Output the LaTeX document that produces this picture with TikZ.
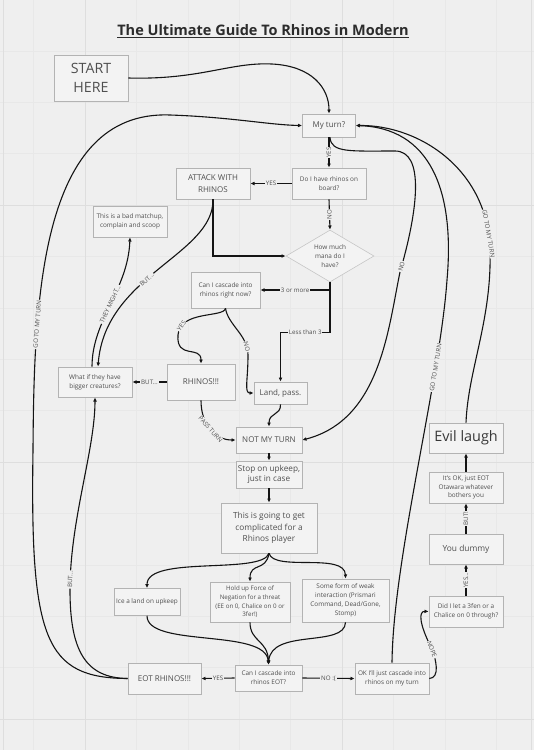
\documentclass[tikz,border=0pt]{standalone}
\usepackage{fontspec}
\setmainfont{Open Sans}
\usepackage{xcolor}
\usepackage{tikz}
\usetikzlibrary{arrows.meta, positioning, shapes.geometric}
\definecolor{rbg}{HTML}{EFEFEF}
\definecolor{rgrid}{HTML}{DEDEDE}
\definecolor{rgridpale}{HTML}{E8E8E8}
\definecolor{rborder}{HTML}{B3B3B3}
\definecolor{rdiamond}{HTML}{C6C6C6}
\definecolor{rfill}{HTML}{F3F3F3}
\definecolor{rtext}{HTML}{4F4F4F}
\definecolor{rink}{HTML}{141414}

\tikzset{
  rbox/.style={draw=rborder, line width=0.6pt, fill=rfill, text=rtext,
    align=center, inner sep=1pt, font=\fontsize{6.4}{8.8}\selectfont},
  rmid/.style={rbox, font=\fontsize{8}{10.3}\selectfont},
  rlink/.style={draw=rink, line width=1.1pt, -{Latex[length=4.2pt, width=3.8pt]}},
  rlab/.style={fill=rbg, text=rtext, inner sep=0.8pt, font=\fontsize{6.2}{7}\selectfont},
}

\begin{document}
\begin{tikzpicture}[x=1pt, y=-1pt]

  %% Board and grid
  \useasboundingbox (0,0) rectangle (534,750);
  \fill[rbg] (0,0) rectangle (534,750);
  \foreach \k in {-1,...,8}{
    \draw[rgridpale, line width=0.4pt] ({85+51.4*\k},0) -- ({85+51.4*\k},750);
  }
  \foreach \k in {-3,...,10}{
    \draw[rgridpale, line width=0.4pt] (0,{205+51.4*\k}) -- (534,{205+51.4*\k});
  }
  \foreach \gx in {3,85,342,531}{
    \draw[rgrid, line width=0.7pt] (\gx,0) -- (\gx,750);
  }
  \foreach \gy in {205,462,719}{
    \draw[rgrid, line width=0.7pt] (0,\gy) -- (534,\gy);
  }

  %% Title
  \node[font=\fontsize{14.5}{17}\selectfont\bfseries, text=rink!90] (title) at (263,31)
    {\underline{The Ultimate Guide To Rhinos in Modern}};

  %% My turn
  \node[rbox, minimum width=74pt, minimum height=46pt, font=\fontsize{14.2}{19.5}\selectfont] (start) at (91,78) {START\\HERE};
  \node[rmid, minimum width=53pt, minimum height=23pt] (myturn) at (329,125.5) {My turn?};
  \node[rbox, minimum width=74pt, minimum height=31pt] (rhinoboard) at (329,183.5) {Do I have rhinos on\\board?};
  \node[rbox, draw=rdiamond, diamond, aspect=1.7, minimum width=88pt, minimum height=52pt, inner sep=0pt] (mana) at (330,256) {How much\\mana do I\\have?};
  \node[rmid, minimum width=74pt, minimum height=31pt, font=\fontsize{8}{12}\selectfont] (attack) at (213,183.5) {ATTACK WITH\\RHINOS};
  \node[rbox, minimum width=74pt, minimum height=31pt] (badmatch) at (130,221.5) {This is a bad matchup,\\complain and scoop};
  \node[rbox, minimum width=69pt, minimum height=36pt] (cascnow) at (225.5,290) {Can I cascade into\\rhinos right now?};
  \node[rmid, minimum width=68pt, minimum height=36pt] (rhinos) at (201,382) {RHINOS!!!};
  \node[rbox, minimum width=74pt, minimum height=30pt] (bigger) at (95,382) {What if they have\\bigger creatures?};
  \node[rmid, minimum width=53pt, minimum height=22pt] (landpass) at (280.5,393) {Land, pass.};

  %% Not my turn
  \node[rmid, minimum width=66pt, minimum height=26pt] (notmine) at (269,440) {NOT MY TURN};
  \node[rmid, minimum width=66pt, minimum height=27pt, font=\fontsize{8.2}{10.3}\selectfont] (upkeep) at (269,474.5) {Stop on upkeep,\\just in case};
  \node[rmid, minimum width=96pt, minimum height=50pt, font=\fontsize{8.3}{11.3}\selectfont] (complic) at (269,528) {This is going to get\\complicated for a\\Rhinos player};
  \node[rbox, minimum width=66pt, minimum height=27pt] (iceland) at (147,602) {Ice a land on upkeep};
  \node[rbox, minimum width=80pt, minimum height=40pt, font=\fontsize{6.2}{8.6}\selectfont] (holdup) at (250,602) {Hold up Force of\\Negation for a threat\\(EE on 0, Chalice on 0 or\\3fer!)};
  \node[rbox, minimum width=87pt, minimum height=43pt] (weak) at (345.5,600.5) {Some form of weak\\interaction (Prismari\\Command, Dead/Gone,\\Stomp)};
  \node[rmid, minimum width=73pt, minimum height=31pt] (eotrhinos) at (164.5,678.5) {EOT RHINOS!!!};
  \node[rbox, minimum width=67pt, minimum height=26pt] (casceot) at (268.5,678) {Can I cascade into\\rhinos EOT?};
  \node[rbox, minimum width=74pt, minimum height=31pt] (okcasc) at (392,678.5) {OK I'll just cascade into\\rhinos on my turn};

  %% Right column
  \node[rbox, minimum width=74pt, minimum height=31pt] (didlet) at (466,611.5) {Did I let a 3fen or a\\Chalice on 0 through?};
  \node[rmid, minimum width=74pt, minimum height=30pt, font=\fontsize{8.4}{10}\selectfont] (dummy) at (466,549) {You dummy};
  \node[rbox, minimum width=74pt, minimum height=31pt] (otawara) at (466,487.5) {It's OK, just EOT\\Otawara whatever\\bothers you};
  \node[rbox, minimum width=74pt, minimum height=30pt, text=rink!85, font=\fontsize{14.4}{16}\selectfont] (evil) at (466,438) {Evil laugh};

  %% Connectors, top part
  \draw[rlink] (start.east) .. controls (200,80) and (230,62) .. (272,64) .. controls (312,66) and (329,88) .. (myturn.north);
  \draw[rlink] (myturn.south) -- node[rlab, rotate=90] {YES} (rhinoboard.north);
  \draw[rlink] (rhinoboard.west) -- node[rlab] {YES} (attack.east);
  \draw[rlink] (rhinoboard.south) -- node[rlab, rotate=90] {NO} (mana.north);
  \draw[rlink] (attack.south) |- (mana.west);
  \draw[rlink] (attack.south) .. controls (214,255) and (105,275) .. ([xshift=3pt]bigger.north) node[rlab, sloped, pos=0.57] {BUT...};
  \draw[rlink] ([xshift=-3pt]bigger.north) .. controls (92,320) and (128,290) .. (badmatch.south) node[rlab, sloped, pos=0.5] {THEY MIGHT...};
  \draw[rlink] (mana.south) |- node[rlab, pos=0.75] {3 or more} (cascnow.east);
  \draw[rlink] (mana.south) -- ++(0,50) -| node[rlab, pos=0.25] {Less than 3} (landpass.north);
  \draw[rlink] (cascnow.south) .. controls (224,318) and (180,310) .. (178,335) node[rlab, sloped, pos=0.85] {YES} .. controls (176,360) and (201,345) .. (rhinos.north);
  \draw[rlink] (cascnow.south) .. controls (228,325) and (248,335) .. (248,355) node[rlab, sloped, pos=0.85] {NO} .. controls (248,380) and (244,393) .. (landpass.west);
  \draw[rlink] (landpass.south) .. controls (281,416) and (269,412) .. (notmine.north);
  \draw[rlink] (rhinos.south) .. controls (201,425) and (215,440) .. (notmine.west) node[rlab, sloped, pos=0.5] {PASS TURN};
  \draw[rlink] (rhinos.west) -- node[rlab] {BUT...} (bigger.east);

  %% Loops back to my turn
  \draw[rlink] ([xshift=1pt]myturn.south) .. controls (331,153) and (350,151) .. (395,151) .. controls (425,151) and (418,210) .. (400,272) node[rlab, sloped, pos=0.97] {NO} .. controls (388,330) and (380,420) .. (notmine.east);
  \draw[rlink] (okcasc.north) .. controls (393,560) and (440,380) .. (447,280) node[rlab, sloped, pos=0.75] {GO TO MY TURN} .. controls (455,190) and (430,128) .. (myturn.east);
  \draw[rlink] (evil.north) .. controls (468,370) and (492,320) .. (490,250) .. controls (488,170) and (420,125) .. (myturn.east) node[rlab, rotate=-80, pos=0.07] {GO TO MY TURN};
  \draw[rlink] (eotrhinos.west) .. controls (45,678) and (30,640) .. (33,450) .. controls (34,300) and (40,110) .. (170,115) node[rlab, sloped, pos=0.27] {GO TO MY TURN} .. controls (230,117) and (270,125) .. (myturn.west);
  \draw[rlink] (eotrhinos.west) .. controls (85,678) and (70,650) .. (70,590) .. controls (70,520) and (95,450) .. (bigger.south) node[rlab, sloped, pos=0.05] {BUT...};

  %% Not my turn part
  \draw[rlink] (notmine.south) -- (upkeep.north);
  \draw[rlink] (upkeep.south) -- (complic.north);
  \draw[rlink] (complic.south) .. controls (262,575) and (147,555) .. (iceland.north);
  \draw[rlink] (complic.south) .. controls (266,572) and (250,562) .. (holdup.north);
  \draw[rlink] (complic.south) .. controls (274,572) and (345,552) .. (weak.north);
  \draw[rlink] (iceland.south) .. controls (147,648) and (266,628) .. (casceot.north);
  \draw[rlink] (holdup.south) .. controls (250,642) and (268,640) .. (casceot.north);
  \draw[rlink] (weak.south) .. controls (345,648) and (271,628) .. (casceot.north);
  \draw[rlink] (casceot.west) -- node[rlab] {YES} (eotrhinos.east);
  \draw[rlink] (casceot.east) -- node[rlab] {NO :(} (okcasc.west);
  \draw[rlink] (okcasc.east) .. controls (440,678) and (437,660) .. (430,645) node[rlab, sloped, pos=0.9] {NOPE} .. controls (420,625) and (418,611) .. (didlet.west);
  \draw[rlink] (didlet.north) -- node[rlab, rotate=90] {YES...} (dummy.south);
  \draw[rlink] (dummy.north) -- node[rlab, rotate=90] {BUT!} (otawara.south);
  \draw[rlink] (otawara.north) -- (evil.south);

\end{tikzpicture}
\end{document}
